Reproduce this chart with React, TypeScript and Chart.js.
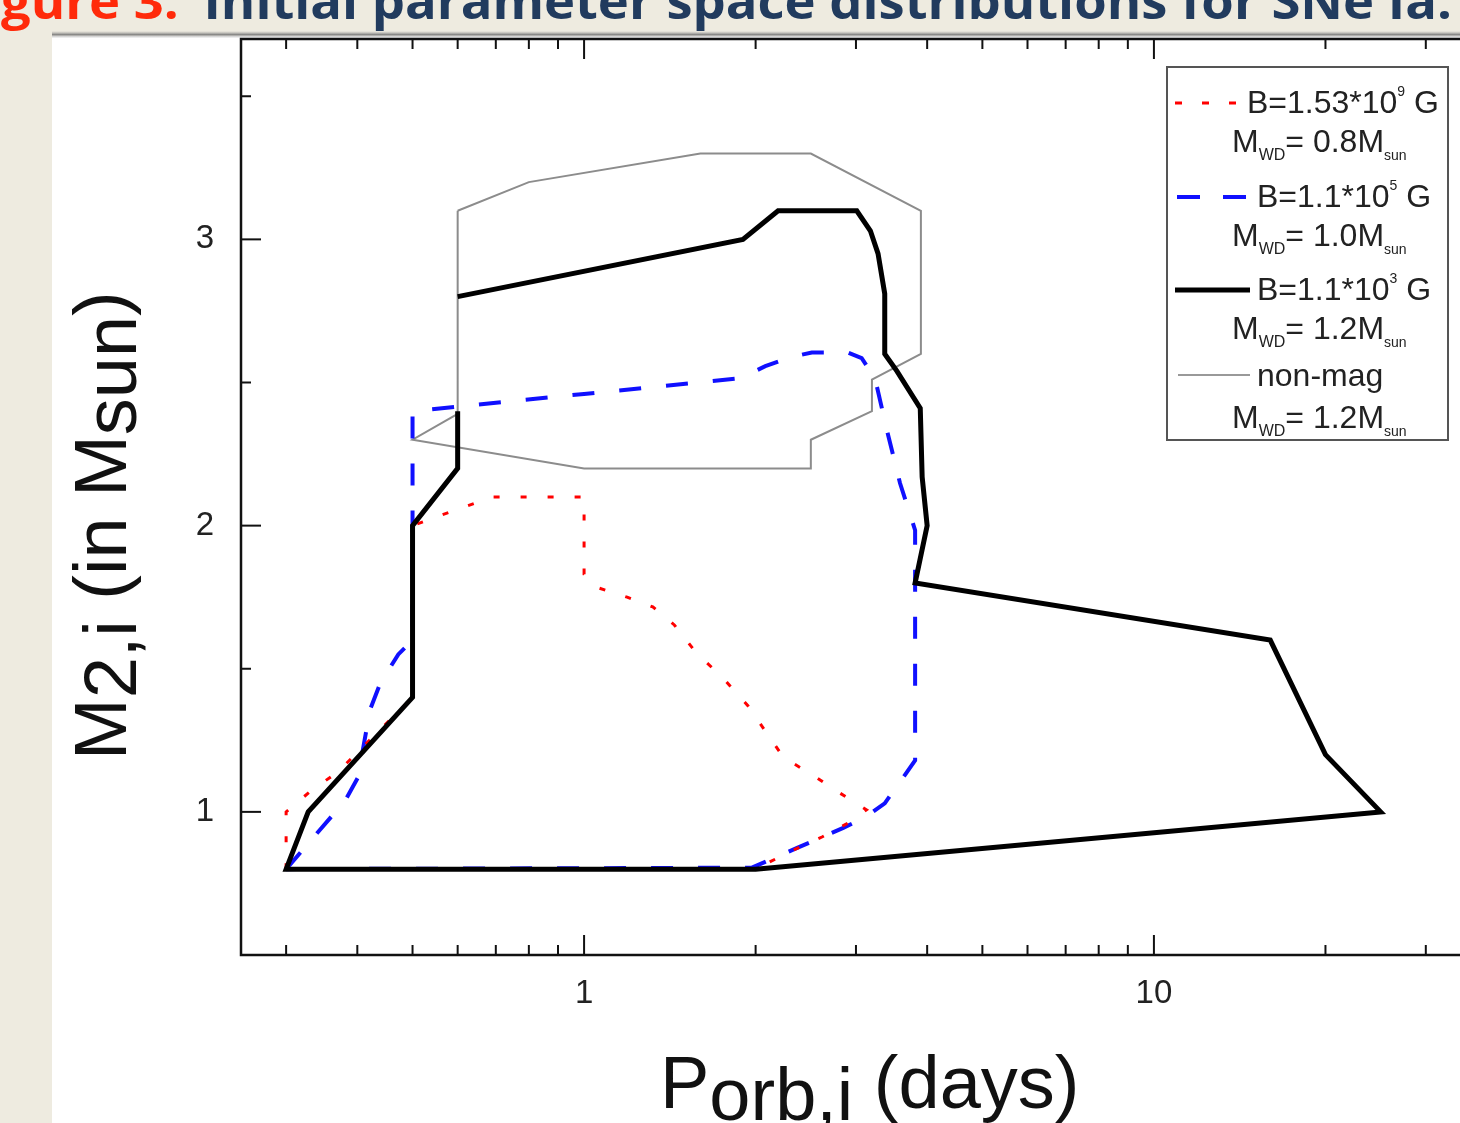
import React, { useEffect, useRef } from "react";
import { Chart, registerables } from "chart.js";

Chart.register(...registerables);

// ---- data (P_orb,i in days ; M2,i in Msun) ----
const redP = [0.3, 0.3, 0.33, 0.37, 0.5, 0.5, 0.55, 0.69, 1.0, 1.0, 1.05, 1.19, 1.32, 1.44, 1.57, 1.76, 1.94, 2.09, 2.24, 2.51, 2.81, 3.13, 2.93, 2.62, 2.33, 2.0, 0.3];
const redM = [0.8, 1.0, 1.07, 1.14, 1.4, 2.0, 2.03, 2.1, 2.1, 1.83, 1.785, 1.75, 1.716, 1.653, 1.558, 1.464, 1.37, 1.276, 1.19, 1.13, 1.066, 1.007, 0.965, 0.913, 0.867, 0.8, 0.8];

const blueP = [0.3, 0.381, 0.401, 0.421, 0.439, 0.472, 0.5, 0.5, 1.0, 1.88, 2.08, 2.3, 2.51, 2.9, 3.07, 3.24, 3.4, 3.585, 3.81, 3.81, 3.66, 3.37, 3.11, 2.85, 2.365, 1.97, 0.3];
const blueM = [0.8, 1.04, 1.12, 1.356, 1.45, 1.55, 1.6, 2.4, 2.46, 2.515, 2.557, 2.588, 2.605, 2.605, 2.585, 2.515, 2.333, 2.148, 1.984, 1.18, 1.13, 1.03, 0.98, 0.944, 0.874, 0.805, 0.8];

const blackP = [0.6, 1.9, 2.19, 3.01, 3.18, 3.28, 3.37, 3.37, 3.54, 3.89, 3.92, 4.0, 3.81, 16, 20, 25, 2.0, 0.3, 0.328, 0.5, 0.5, 0.6, 0.6];
const blackM = [2.8, 3.0, 3.1, 3.1, 3.03, 2.95, 2.81, 2.6, 2.54, 2.41, 2.17, 2.0, 1.8, 1.6, 1.2, 1.0, 0.8, 0.8, 1.0, 1.4, 2.0, 2.2, 2.4];

const grayP = [0.6, 0.8, 1.6, 2.5, 3.9, 3.9, 3.2, 3.2, 2.5, 2.5, 1.0, 0.5, 0.6, 0.6];
const grayM = [3.1, 3.2, 3.3, 3.3, 3.1, 2.6, 2.51, 2.4, 2.3, 2.2, 2.2, 2.3, 2.39, 3.1];

// ---- axes ----
const xRange = [0.25, 40];
const yRange = [0.5, 3.7];
const xMajorTicks = [1, 10];
const xMinorTicks = [0.3, 0.4, 0.5, 0.6, 0.7, 0.8, 0.9, 2, 3, 4, 5, 6, 7, 8, 9, 20, 30];
const yMajorTicks = [1, 2, 3];
const yMinorTicks = [1.5, 2.5, 3.5];

// ---- texts ----
const titleRed = "gure 3:";
const titleRest = " Initial parameter space distributions for SNe Ia.";
const xTitleMain = "P";
const xTitleSub = "orb,i";
const xTitleTail = " (days)";
const yTitleParts = ["M", "2,i", " (in M", "sun", ")"];
const legendLine1 = ["B=1.53*10", "B=1.1*10", "B=1.1*10", "non-mag"];
const legendExp = ["9", "5", "3", ""];
const legendUnit = [" G", " G", " G", ""];
const legendMass = ["0.8", "1.0", "1.2", "1.2"];

const FONT = '"Liberation Sans", Arial, sans-serif';

const pts = (xs: number[], ys: number[]) => xs.map((x, i) => ({ x, y: ys[i] }));

type Seg = { t: string; size: number; dy: number };
function drawRich(ctx: CanvasRenderingContext2D, x: number, y: number, segs: Seg[]) {
  let cx = x;
  for (const s of segs) {
    if (!s.t) continue;
    ctx.font = `${s.size}px ${FONT}`;
    ctx.fillText(s.t, cx, y + s.dy);
    cx += ctx.measureText(s.t).width;
  }
}

const bgPlugin = {
  id: "bgPlugin",
  beforeDraw(chart: any) {
    const ctx: CanvasRenderingContext2D = chart.ctx;
    const w = chart.width, h = chart.height;
    ctx.save();
    ctx.fillStyle = "#eeebe0";
    ctx.fillRect(0, 0, w, h);
    ctx.fillStyle = "#ffffff";
    ctx.fillRect(52, 36, w - 52, h - 36);
    const g = ctx.createLinearGradient(0, 31, 0, 38);
    g.addColorStop(0, "rgba(160,160,160,0)");
    g.addColorStop(0.5, "rgba(120,120,120,0.85)");
    g.addColorStop(1, "rgba(220,220,220,0.3)");
    ctx.fillStyle = g;
    ctx.fillRect(52, 31, w - 52, 7);
    // slide title (cut at the top)
    ctx.font = `bold 48px "Open Sans", sans-serif`;
    ctx.textBaseline = "alphabetic";
    const wr = ctx.measureText(titleRed).width;
    const wt = ctx.measureText(titleRest).width;
    const sx = 1440 / (wr + wt);
    ctx.save();
    ctx.translate(1, 19);
    ctx.scale(sx, 1);
    ctx.fillStyle = "#ff2a0a";
    ctx.fillText(titleRed, 0, 0);
    ctx.fillStyle = "#213b5e";
    ctx.fillText(titleRest, wr + 10, 0);
    ctx.restore();
    ctx.restore();
  },
};

const framePlugin = {
  id: "framePlugin",
  afterDraw(chart: any) {
    const ctx: CanvasRenderingContext2D = chart.ctx;
    const { left, right, top, bottom } = chart.chartArea;
    const xs = chart.scales.x, ys = chart.scales.y;
    ctx.save();
    ctx.strokeStyle = "#111";
    ctx.lineWidth = 2;
    const line = (x1: number, y1: number, x2: number, y2: number) => {
      ctx.beginPath(); ctx.moveTo(x1, y1); ctx.lineTo(x2, y2); ctx.stroke();
    };
    for (const v of xMajorTicks) { const p = xs.getPixelForValue(v); line(p, bottom, p, bottom - 20); line(p, top, p, top + 20); }
    for (const v of xMinorTicks) { const p = xs.getPixelForValue(v); line(p, bottom, p, bottom - 10); line(p, top, p, top + 10); }
    for (const v of yMajorTicks) { const p = ys.getPixelForValue(v); line(left, p, left + 20, p); line(right, p, right - 20, p); }
    for (const v of yMinorTicks) { const p = ys.getPixelForValue(v); line(left, p, left + 10, p); line(right, p, right - 10, p); }
    ctx.lineWidth = 2.5;
    ctx.strokeRect(left, top, right - left, bottom - top);

    // axis titles
    ctx.fillStyle = "#111";
    ctx.textBaseline = "alphabetic";
    ctx.textAlign = "left";
    drawRich(ctx, 660, 1108, [
      { t: xTitleMain, size: 74, dy: 0 },
      { t: xTitleSub, size: 74, dy: 12 },
      { t: xTitleTail, size: 74, dy: 0 },
    ]);
    ctx.save();
    ctx.translate(126, 760);
    ctx.rotate(-Math.PI / 2);
    drawRich(ctx, 0, 0, yTitleParts.map((t, i) => ({ t, size: 74, dy: i % 2 === 1 ? 10 : 0 })));
    ctx.restore();

    // legend
    const bx = 1167, by = 67, bw = 281, bh = 373;
    ctx.fillStyle = "#ffffff";
    ctx.fillRect(bx, by, bw, bh);
    ctx.strokeStyle = "#555";
    ctx.lineWidth = 2;
    ctx.strokeRect(bx, by, bw, bh);
    const sampleY = [103, 197, 290, 375];
    const base1 = [113, 207, 300, 386];
    const base2 = [152, 246, 339, 428];
    const line1X = [1247, 1257, 1257, 1257];
    const styles = [
      { c: "#ff0000", w: 3, d: [7, 20], x1: 1175, x2: 1240 },
      { c: "#1010ff", w: 4, d: [23, 23], x1: 1177, x2: 1247 },
      { c: "#000000", w: 5, d: [], x1: 1175, x2: 1250 },
      { c: "#999999", w: 2, d: [], x1: 1178, x2: 1250 },
    ];
    for (let i = 0; i < 4; i++) {
      const s = styles[i];
      ctx.strokeStyle = s.c; ctx.lineWidth = s.w; ctx.setLineDash(s.d);
      line(s.x1, sampleY[i], s.x2, sampleY[i]);
      ctx.setLineDash([]);
      ctx.fillStyle = "#222";
      drawRich(ctx, line1X[i], base1[i], [
        { t: legendLine1[i], size: 32, dy: 0 },
        { t: legendExp[i], size: 14, dy: -17 },
        { t: legendUnit[i], size: 32, dy: 0 },
      ]);
      drawRich(ctx, 1232, base2[i], [
        { t: "M", size: 32, dy: 0 },
        { t: "WD", size: 16, dy: 8 },
        { t: "= " + legendMass[i], size: 32, dy: 0 },
        { t: "M", size: 32, dy: 0 },
        { t: "sun", size: 14, dy: 8 },
      ]);
    }
    ctx.restore();
  },
};

export default function App() {
  const ref = useRef<HTMLCanvasElement | null>(null);
  useEffect(() => {
    if (!ref.current) return;
    const common = { pointRadius: 0, pointHoverRadius: 0, fill: false, tension: 0, showLine: true };
    const chart = new Chart(ref.current, {
      type: "line",
      data: {
        datasets: [
          { label: "B=1.53*10^9 G, MWD=0.8Msun", data: pts(redP, redM), borderColor: "#ff0000", borderWidth: 3, borderDash: [6, 21], order: 1, ...common },
          { label: "B=1.1*10^5 G, MWD=1.0Msun", data: pts(blueP, blueM), borderColor: "#1010ff", borderWidth: 4, borderDash: [22, 25], order: 2, ...common },
          { label: "B=1.1*10^3 G, MWD=1.2Msun", data: pts(blackP, blackM), borderColor: "#000000", borderWidth: 5, borderJoinStyle: "miter", order: 0, ...common },
          { label: "non-mag, MWD=1.2Msun", data: pts(grayP, grayM), borderColor: "#8c8c8c", borderWidth: 2, order: 3, ...common },
        ] as any,
      },
      options: {
        responsive: false,
        animation: false,
        devicePixelRatio: 1,
        layout: { padding: { left: 0, top: 39, right: 23, bottom: 0 } },
        plugins: { legend: { display: false }, tooltip: { enabled: false } },
        scales: {
          x: {
            type: "logarithmic",
            min: xRange[0],
            max: xRange[1],
            grid: { display: false },
            border: { display: false },
            afterBuildTicks: (s: any) => { s.ticks = xMajorTicks.map((v) => ({ value: v })); },
            afterFit: (s: any) => { s.height = 168; },
            ticks: {
              autoSkip: false,
              maxRotation: 0,
              padding: 11,
              color: "#222",
              font: { family: FONT, size: 33 },
              callback: (v: any) => String(v),
            },
          },
          y: {
            type: "linear",
            min: yRange[0],
            max: yRange[1],
            grid: { display: false },
            border: { display: false },
            afterBuildTicks: (s: any) => { s.ticks = yMajorTicks.map((v) => ({ value: v })); },
            afterFit: (s: any) => { s.width = 241; },
            ticks: {
              padding: 19,
              color: "#222",
              font: { family: FONT, size: 33 },
              callback: (v: any) => String(v),
            },
          },
        },
      } as any,
      plugins: [bgPlugin, framePlugin],
    });
    return () => chart.destroy();
  }, []);
  return (
    <div style={{ position: "fixed", left: 0, top: 0, width: 1460, height: 1123, overflow: "hidden" }}>
      <canvas ref={ref} width={1520} height={1123} style={{ display: "block", width: 1520, height: 1123 }} />
    </div>
  );
}
